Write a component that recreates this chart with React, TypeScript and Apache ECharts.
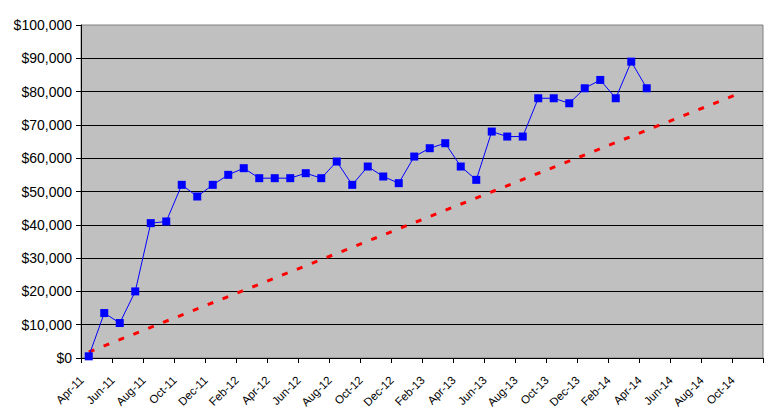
import React, { useEffect, useRef } from "react";
import * as echarts from "echarts";

const months: string[] = [
  "Apr-11", "May-11", "Jun-11", "Jul-11", "Aug-11", "Sep-11", "Oct-11", "Nov-11", "Dec-11",
  "Jan-12", "Feb-12", "Mar-12", "Apr-12", "May-12", "Jun-12", "Jul-12", "Aug-12", "Sep-12",
  "Oct-12", "Nov-12", "Dec-12", "Jan-13", "Feb-13", "Mar-13", "Apr-13", "May-13", "Jun-13",
  "Jul-13", "Aug-13", "Sep-13", "Oct-13", "Nov-13", "Dec-13", "Jan-14", "Feb-14", "Mar-14",
  "Apr-14", "May-14", "Jun-14", "Jul-14", "Aug-14", "Sep-14", "Oct-14", "Nov-14",
];

const actualValues: number[] = [
  500, 13500, 10500, 20000, 40500, 41000, 52000, 48500, 52000,
  55000, 57000, 54000, 54000, 54000, 55500, 54000, 59000, 52000,
  57500, 54500, 52500, 60500, 63000, 64500, 57500, 53500, 68000,
  66500, 66500, 78000, 78000, 76500, 81000, 83500, 78000, 89000,
  81000,
];

// trend line: start (Apr-11) and end (Oct-14) values
const trendStartIndex = 0;
const trendStartValue = 1800;
const trendEndIndex = 42;
const trendEndValue = 79500;

const yTicks = { min: 0, max: 100000, interval: 10000 };

export default function App() {
  const ref = useRef<HTMLDivElement>(null);

  useEffect(() => {
    if (!ref.current) return;
    const chart = echarts.init(ref.current, undefined, { renderer: "svg" });
    const trend: (number | null)[] = months.map(() => null);
    trend[trendStartIndex] = trendStartValue;
    trend[trendEndIndex] = trendEndValue;
    const font = "'Liberation Sans', Arial, sans-serif";
    chart.setOption({
      animation: false,
      backgroundColor: "#FFFFFF",
      grid: {
        left: 81,
        right: 5,
        top: 25,
        bottom: 59,
        show: true,
        backgroundColor: "#C0C0C0",
        borderColor: "#808080",
        borderWidth: 1,
      },
      xAxis: {
        type: "category",
        data: months,
        boundaryGap: true,
        axisLine: { show: true, lineStyle: { color: "#000000", width: 1 } },
        axisTick: { show: true, interval: 1, length: 5, alignWithLabel: false, lineStyle: { color: "#000000" } },
        axisLabel: {
          interval: 1,
          rotate: 45,
          fontSize: 11.5,
          fontFamily: font,
          color: "#000000",
          margin: 13,
          padding: [0, 10, 0, 0],
        },
        splitLine: { show: false },
      },
      yAxis: {
        type: "value",
        min: yTicks.min,
        max: yTicks.max,
        interval: yTicks.interval,
        axisLine: { show: true, lineStyle: { color: "#000000", width: 1 } },
        axisTick: { show: true, length: 5, lineStyle: { color: "#000000" } },
        axisLabel: {
          fontSize: 14,
          fontFamily: font,
          color: "#000000",
          margin: 9,
          formatter: (v: number) => "$" + v.toLocaleString("en-US"),
        },
        splitLine: { show: true, showMaxLine: false, lineStyle: { color: "#000000", width: 1 } },
      },
      series: [
        {
          type: "line",
          data: trend,
          connectNulls: true,
          symbol: "none",
          lineStyle: { color: "#FF0000", width: 3, type: [6, 10] },
          z: 2,
        },
        {
          type: "line",
          data: actualValues,
          symbol: "rect",
          symbolSize: 8,
          itemStyle: { color: "#0000FF" },
          lineStyle: { color: "#0000FF", width: 1 },
          z: 3,
        },
      ],
    });
    return () => chart.dispose();
  }, []);

  return (
    <div
      ref={ref}
      style={{ position: "fixed", left: 0, top: 0, width: 768, height: 417 }}
    />
  );
}
